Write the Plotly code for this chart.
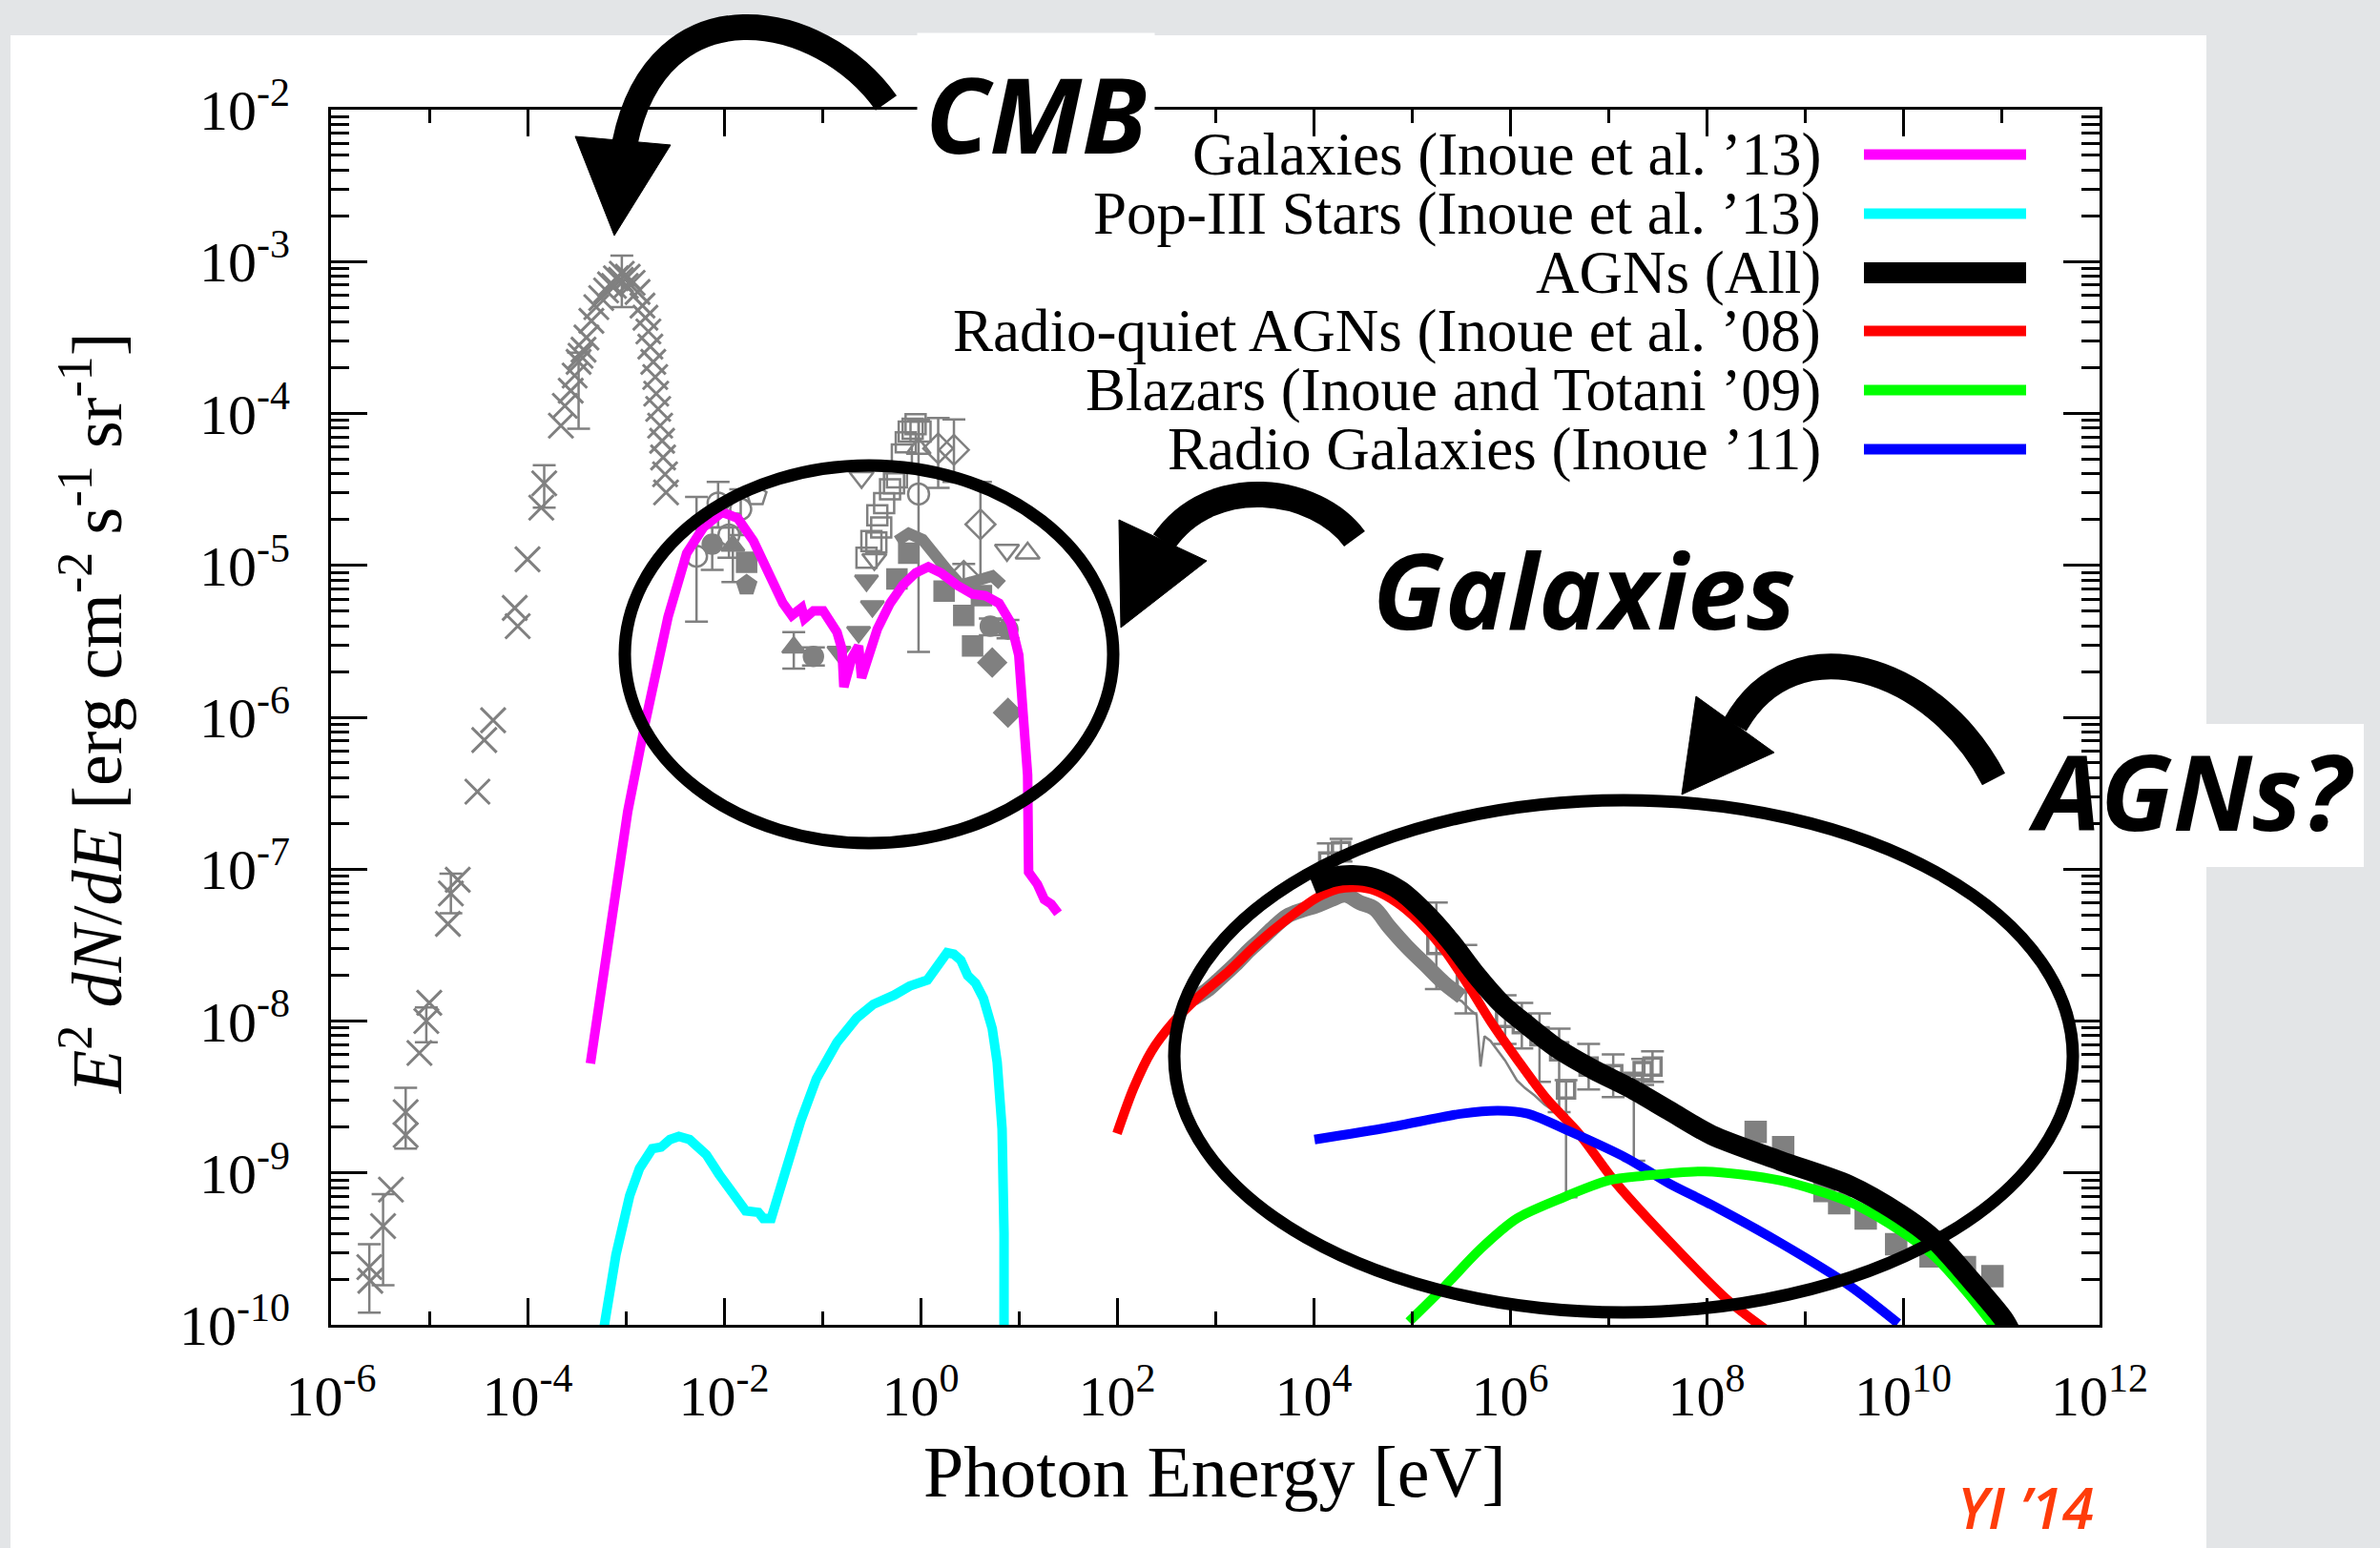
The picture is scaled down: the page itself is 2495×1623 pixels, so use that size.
import numpy as np
import plotly.graph_objects as go

# ---------------- data (log10 values) ----------------
# CMB measurements (x-shaped markers)
cmb_logE = [-5.60, -5.39, -5.24, -5.10, -5.00, -4.81, -4.71, -4.51, -4.44, -4.35, -4.10, -4.13,
            -4.00, -3.86, -3.66, -3.56, -3.43, -3.35, -3.30, -3.25, -3.20, -3.16, -3.10, -2.98,
            -2.93, -2.88, -2.83, -2.80, -2.77, -2.75, -2.72, -2.70, -2.69, -2.67, -2.65, -2.63,
            -2.62, -2.60, -2.59, -3.40, -3.52, -3.05, -3.00, -3.12, -3.46, -3.62]
cmb_logY = [-9.71, -9.11, -8.75, -8.21, -7.88, -7.36, -7.07, -6.49, -6.15, -6.02, -5.40, -5.28,
            -4.96, -4.62, -4.08, -3.85, -3.58, -3.39, -3.30, -3.24, -3.19, -3.15, -3.11, -3.10,
            -3.14, -3.20, -3.29, -3.37, -3.46, -3.56, -3.66, -3.76, -3.87, -3.97, -4.08, -4.18,
            -4.29, -4.40, -4.52, -3.50, -3.75, -3.12, -3.16, -3.16, -3.62, -3.95]
# CMB points with visible error bars: value, lower, upper (log10)
cmbe_logE = [-5.61, -5.47, -5.24, -5.03, -4.78, -3.83, -3.48, -3.04]
cmbe_logY = [-9.62, -9.35, -8.60, -8.00, -7.16, -4.46, -3.66, -3.08]
cmbe_lo = [-9.92, -9.74, -8.84, -8.14, -7.29, -4.62, -4.10, -3.30]
cmbe_hi = [-9.47, -9.14, -8.44, -7.91, -7.03, -4.34, -3.60, -2.96]

# EBL measurements (various symbols)
ebl_ocirc_E = [-2.28, -2.06, -1.83, -1.95, -0.02]
ebl_ocirc_Y = [-4.94, -4.59, -4.63, -4.80, -4.53]
ebl_ocirc_lo = [-5.37, -4.75, -4.80, -4.95, -5.57]
ebl_ocirc_hi = [-4.55, -4.45, -4.50, -4.66, -4.04]
ebl_fcirc_E = [-2.12, -1.09, 0.71, 0.89]
ebl_fcirc_Y = [-4.86, -5.60, -5.40, -5.42]
ebl_fcirc_lo = [-5.03, -5.66, -5.46, -5.48]
ebl_fcirc_hi = [-4.75, -5.54, -5.35, -5.36]
ebl_ftri_E = [-1.91, -1.29]
ebl_ftri_Y = [-4.87, -5.54]
ebl_ftri_lo = [-5.11, -5.68]
ebl_ftri_hi = [-4.75, -5.44]
ebl_fdown_E = [-0.83, -0.63, -0.49, -0.55]
ebl_fdown_Y = [-5.57, -5.44, -5.27, -5.10]
ebl_otri_E = [-0.02, 1.09]
ebl_otri_Y = [-4.23, -4.92]
ebl_odown_E = [-0.60, -0.47, 0.88]
ebl_odown_Y = [-4.42, -4.96, -4.90]
ebl_fsq_E = [-1.77, -0.24, -0.12, 0.24, 0.44, 0.53, 0.62]
ebl_fsq_Y = [-4.98, -5.09, -4.92, -5.17, -5.33, -5.53, -5.20]
ebl_osq_E = [-0.55, -0.50, -0.45, -0.44, -0.40, -0.37, -0.31, -0.27, -0.24, -0.19, -0.15, -0.12,
             -0.08, -0.05, 0.00]
ebl_osq_Y = [-4.95, -4.84, -4.85, -4.67, -4.75, -4.59, -4.50, -4.46, -4.42, -4.27, -4.19, -4.12,
             -4.10, -4.07, -4.12]
ebl_fpent_E = [-1.77]
ebl_fpent_Y = [-5.13]
ebl_opent_E = [-1.67]
ebl_opent_Y = [-4.54]
ebl_odiam_E = [0.18, 0.34, 0.61, 0.44]
ebl_odiam_Y = [-4.23, -4.24, -4.73, -5.07]
ebl_odiam_lo = [-4.49, -4.45, -5.10, -5.15]
ebl_odiam_hi = [-4.03, -4.04, -4.45, -4.99]
ebl_fdiam_E = [0.73, 0.89]
ebl_fdiam_Y = [-5.64, -5.97]
ebl_band_E = [-0.24, -0.12, 0.02, 0.15, 0.27, 0.41, 0.53, 0.73, 0.83]
ebl_band_Y = [-4.84, -4.79, -4.83, -4.92, -5.03, -5.13, -5.11, -5.07, -5.13]

# X-ray / gamma-ray background measurements
cxb_band_E = [2.78, 2.91, 3.05, 3.20, 3.35, 3.47, 3.60, 3.73, 3.88, 4.03, 4.18, 4.32, 4.47,
              4.62, 4.77, 4.95, 5.14, 5.33, 5.51]
cxb_band_Y = [-7.85, -7.80, -7.72, -7.63, -7.53, -7.46, -7.38, -7.31, -7.27, -7.24, -7.20, -7.17,
              -7.22, -7.26, -7.38, -7.51, -7.63, -7.75, -7.84]
cxb_spec_E = [5.45, 5.51, 5.60, 5.66, 5.70, 5.74, 5.80, 5.88, 5.95, 6.07, 6.15, 6.25, 6.35, 6.44, 6.52, 6.59]
cxb_spec_Y = [-7.85, -7.87, -7.93, -7.96, -8.30, -8.10, -8.13, -8.20, -8.26, -8.39, -8.44, -8.49,
              -8.55, -8.59, -8.61, -8.62]
gam_open_E = [4.15, 4.28, 5.25, 5.55, 5.95, 6.12, 6.30, 6.50, 6.57, 6.80, 7.05, 7.26, 7.35, 7.45]
gam_open_Y = [-6.95, -6.88, -7.50, -7.75, -7.98, -8.02, -8.10, -8.20, -8.45, -8.30, -8.35, -8.40, -8.33, -8.30]
gam_open_lo = [-7.02, -6.95, -7.79, -7.95, -8.15, -8.18, -8.40, -8.60, -9.16, -8.45, -8.50, -8.92, -8.42, -8.40]
gam_open_hi = [-6.83, -6.80, -7.22, -7.50, -7.83, -7.88, -7.95, -8.05, -8.39, -8.15, -8.22, -8.36, -8.25, -8.20]
fermi_E = [8.50, 8.78, 9.20, 9.35, 9.62, 9.93, 10.28, 10.63, 10.91]
fermi_Y = [-8.73, -8.83, -9.12, -9.20, -9.30, -9.47, -9.55, -9.62, -9.68]

# Model curves
gal_E = [-3.36, -3.14, -2.98, -2.80, -2.57, -2.38, -2.21, -2.02, -1.86, -1.70, -1.53, -1.40, -1.31,
         -1.21, -1.18, -1.09, -0.99, -0.85, -0.80, -0.78, -0.70, -0.63, -0.60, -0.53, -0.44, -0.31,
         -0.18, -0.05, 0.08, 0.21, 0.37, 0.53, 0.66, 0.80, 0.92, 1.00, 1.05, 1.09, 1.10, 1.19, 1.26,
         1.33, 1.40]
gal_Y = [-8.28, -7.27, -6.62, -6.03, -5.34, -4.92, -4.75, -4.65, -4.69, -4.84, -5.09, -5.25, -5.33,
         -5.28, -5.35, -5.30, -5.30, -5.44, -5.55, -5.80, -5.61, -5.53, -5.74, -5.61, -5.42, -5.25,
         -5.13, -5.05, -5.01, -5.05, -5.13, -5.19, -5.20, -5.25, -5.38, -5.59, -5.97, -6.38, -7.02,
         -7.10, -7.20, -7.23, -7.29]
pop3_E = [-3.23, -3.10, -2.96, -2.86, -2.73, -2.64, -2.55, -2.46, -2.35, -2.18, -2.05, -1.91, -1.78,
          -1.65, -1.60, -1.52, -1.40, -1.22, -1.06, -0.85, -0.65, -0.48, -0.27, -0.11, 0.07, 0.17,
          0.27, 0.34, 0.41, 0.48, 0.56, 0.64, 0.73, 0.78, 0.83, 0.85, 0.85]
pop3_Y = [-10.05, -9.54, -9.15, -8.97, -8.84, -8.83, -8.78, -8.76, -8.78, -8.88, -9.01, -9.13, -9.25,
          -9.26, -9.30, -9.30, -9.04, -8.66, -8.38, -8.14, -7.98, -7.89, -7.83, -7.77, -7.73, -7.65,
          -7.55, -7.56, -7.60, -7.70, -7.75, -7.85, -8.05, -8.27, -8.71, -9.40, -10.3]
agn_E = [3.99, 4.21, 4.40, 4.62, 4.88, 5.14, 5.40, 5.66, 5.92, 6.18, 6.48, 6.85, 7.22, 7.62, 8.05,
         8.75, 9.45, 9.97, 10.32, 10.67, 11.02, 11.10]
agn_Y = [-7.10, -7.05, -7.04, -7.06, -7.14, -7.29, -7.48, -7.70, -7.89, -8.03, -8.18, -8.32, -8.44,
         -8.59, -8.75, -8.92, -9.08, -9.27, -9.44, -9.69, -9.96, -10.05]
rq_E = [2.00, 2.17, 2.35, 2.57, 2.83, 3.14, 3.43, 3.73, 4.03, 4.25, 4.44, 4.62, 4.85, 5.07, 5.33,
        5.58, 5.81, 6.07, 6.37, 6.70, 7.07, 7.62, 8.22, 8.60]
rq_Y = [-8.74, -8.44, -8.20, -8.01, -7.84, -7.67, -7.49, -7.33, -7.19, -7.13, -7.12, -7.14, -7.22,
        -7.34, -7.53, -7.77, -8.01, -8.25, -8.51, -8.74, -9.06, -9.45, -9.84, -10.03]
blz_E = [4.97, 5.33, 5.70, 6.07, 6.51, 7.00, 7.35, 7.98, 8.75, 9.45, 9.97, 10.32, 10.67, 10.95]
blz_Y = [-9.98, -9.75, -9.50, -9.30, -9.17, -9.05, -9.02, -8.99, -9.05, -9.19, -9.38, -9.55, -9.80, -10.03]
rg_E = [4.01, 4.77, 5.51, 5.88, 6.18, 6.62, 7.18, 7.62, 8.05, 8.75, 9.45, 9.95]
rg_Y = [-8.78, -8.70, -8.61, -8.59, -8.61, -8.73, -8.90, -9.07, -9.21, -9.46, -9.74, -9.99]

# Legend
legend_names = ["Galaxies (Inoue et al. ’13)", "Pop-III Stars (Inoue et al. ’13)", "AGNs (All)",
                "Radio-quiet AGNs (Inoue et al. ’08)", "Blazars (Inoue and Totani ’09)",
                "Radio Galaxies (Inoue ’11)"]
legend_colors = ["#ff00ff", "#00ffff", "#000000", "#ff0000", "#00ff00", "#0000ff"]
legend_widths = [11, 11, 22, 11, 11, 11]

x_tick_exp = [-6, -4, -2, 0, 2, 4, 6, 8, 10, 12]
y_tick_exp = [-10, -9, -8, -7, -6, -5, -4, -3, -2]

# ---------------- layout geometry ----------------
W, H = 2495, 1623
L, R, T, B = 347, 2201, 115, 1389
GRAY = "#808080"
SERIF = "Liberation Serif"


def P(px, py):
    return (px - L) / (R - L), (B - py) / (B - T)


def lin(v):
    return 10 ** np.array(v, dtype=float)


def errs(y, lo, hi):
    y = np.array(y, float)
    return dict(type="data", symmetric=False, array=10 ** np.array(hi) - 10 ** y,
                arrayminus=10 ** y - 10 ** np.array(lo), color=GRAY, thickness=2.5, width=12)


fig = go.Figure()


def pts(E, Y, symbol, size=22, err=None, lw=2.5):
    tr = go.Scatter(x=lin(E), y=lin(Y), mode="markers", showlegend=False,
                    marker=dict(symbol=symbol, size=size, color=GRAY,
                                line=dict(color=GRAY, width=lw)))
    if err is not None:
        tr.error_y = err
    fig.add_trace(tr)


# gray data
pts(cmb_logE, cmb_logY, "x-thin-open", 26, lw=3)
pts(cmbe_logE, cmbe_logY, "x-thin-open", 26, errs(cmbe_logY, cmbe_lo, cmbe_hi), lw=3)
fig.add_trace(go.Scatter(x=lin(ebl_band_E), y=lin(ebl_band_Y), mode="lines", showlegend=False,
                         line=dict(color=GRAY, width=12)))
pts(ebl_ocirc_E, ebl_ocirc_Y, "circle-open", 22, errs(ebl_ocirc_Y, ebl_ocirc_lo, ebl_ocirc_hi))
pts(ebl_fcirc_E, ebl_fcirc_Y, "circle", 20, errs(ebl_fcirc_Y, ebl_fcirc_lo, ebl_fcirc_hi))
pts(ebl_ftri_E, ebl_ftri_Y, "triangle-up", 21, errs(ebl_ftri_Y, ebl_ftri_lo, ebl_ftri_hi))
pts(ebl_fdown_E, ebl_fdown_Y, "triangle-down", 21)
pts(ebl_otri_E, ebl_otri_Y, "triangle-up-open", 22)
pts(ebl_odown_E, ebl_odown_Y, "triangle-down-open", 22)
pts(ebl_fsq_E, ebl_fsq_Y, "square", 20)
pts(ebl_osq_E, ebl_osq_Y, "square-open", 21)
pts(ebl_fpent_E, ebl_fpent_Y, "pentagon", 21)
pts(ebl_opent_E, ebl_opent_Y, "pentagon-open", 22)
pts(ebl_odiam_E, ebl_odiam_Y, "diamond-open", 24, errs(ebl_odiam_Y, ebl_odiam_lo, ebl_odiam_hi))
pts(ebl_fdiam_E, ebl_fdiam_Y, "diamond", 22)
fig.add_trace(go.Scatter(x=lin(cxb_band_E), y=lin(cxb_band_Y), mode="lines", showlegend=False,
                         line=dict(color=GRAY, width=16, shape="spline")))
fig.add_trace(go.Scatter(x=lin(cxb_spec_E), y=lin(cxb_spec_Y), mode="lines", showlegend=False,
                         line=dict(color=GRAY, width=2.5)))
pts(gam_open_E, gam_open_Y, "square-open", 18, errs(gam_open_Y, gam_open_lo, gam_open_hi), lw=3.5)
pts(fermi_E, fermi_Y, "square", 21)

# model curves
curves = [(gal_E, gal_Y, 0, "linear"), (pop3_E, pop3_Y, 1, "linear"), (rq_E, rq_Y, 3, "spline"),
          (rg_E, rg_Y, 5, "spline"), (blz_E, blz_Y, 4, "spline"), (agn_E, agn_Y, 2, "spline")]
for E, Y, i, shp in curves:
    fig.add_trace(go.Scatter(x=lin(E), y=lin(Y), mode="lines", name=legend_names[i],
                             showlegend=False,
                             line=dict(color=legend_colors[i], width=legend_widths[i] - 1,
                                       shape=shp, smoothing=0.8 if shp == "spline" else None)))

shapes = []
annotations = []

# background panels
x0, y0 = P(11, 37)
x1, y1 = P(2313, 1640)
shapes.append(dict(type="rect", xref="paper", yref="paper", x0=x0, y0=y1, x1=x1, y1=y0,
                   fillcolor="white", line=dict(width=0), layer="below"))
x0, y0 = P(2100, 759)
x1, y1 = P(2478, 909)
shapes.append(dict(type="rect", xref="paper", yref="paper", x0=x0, y0=y1, x1=x1, y1=y0,
                   fillcolor="white", line=dict(width=0), layer="below"))

# ellipses
for (a, b, c, d) in [(655, 488, 1167, 884), (1231, 839, 2173, 1376)]:
    ex0, ey0 = P(a, d)
    ex1, ey1 = P(c, b)
    shapes.append(dict(type="circle", xref="paper", yref="paper", x0=ex0, y0=ey0, x1=ex1, y1=ey1,
                       line=dict(color="black", width=13), layer="above"))


def path_str(cmds):
    out = []
    for c in cmds:
        if isinstance(c, str):
            out.append(c)
        else:
            px, py = P(*c)
            out.append(f"{px:.5f},{py:.5f}")
    return " ".join(out)


arrows = [
    # arc: start, c1, c2, end ; head triangle
    ((929, 108), (860, 10), (690, -20), (655, 150), [(603, 143), (703, 152), (644, 247)]),
    ((1420, 565), (1380, 510), (1270, 495), (1220, 568), [(1173, 545), (1265, 588), (1175, 658)]),
    ((2090, 817), (2030, 700), (1880, 650), (1819, 760), [(1778, 730), (1860, 789), (1763, 833)]),
]
for s, c1, c2, e, tri in arrows:
    shapes.append(dict(type="path", xref="paper", yref="paper",
                       path=path_str(["M", s, "C", c1, c2, e]),
                       line=dict(color="black", width=27), fillcolor="rgba(0,0,0,0)",
                       layer="above"))
    shapes.append(dict(type="path", xref="paper", yref="paper",
                       path=path_str(["M", tri[0], "L", tri[1], "L", tri[2], "Z"]),
                       line=dict(color="black", width=1), fillcolor="black", layer="above"))

# big labels
for txt, cx, cy, bg in [("CMB", 1086, 118, "white"), ("Galaxies", 1661, 617, "rgba(0,0,0,0)"),
                        ("AGNs?", 2297, 828, "rgba(0,0,0,0)")]:
    ax, ay = P(cx, cy)
    annotations.append(dict(xref="paper", yref="paper", x=ax, y=ay, text=txt, showarrow=False,
                            xanchor="center", yanchor="middle", bgcolor=bg, borderpad=8,
                            font=dict(family="Open Sans", size=110, color="black",
                                      weight="bold", style="italic")))

# legend (text right-aligned, line sample to the right)
row_y = [162, 224, 286, 347, 409, 471]
for name, col, wdt, ry in zip(legend_names, legend_colors, legend_widths, row_y):
    tx, ty = P(1911, ry)
    annotations.append(dict(xref="paper", yref="paper", x=tx, y=ty, text=name, showarrow=False,
                            xanchor="right", yanchor="middle",
                            font=dict(family=SERIF, size=63, color="black")))
    lx0, ly = P(1954, ry)
    lx1, _ = P(2124, ry)
    shapes.append(dict(type="line", xref="paper", yref="paper", x0=lx0, x1=lx1, y0=ly, y1=ly,
                       line=dict(color=col, width=wdt), layer="above"))

# axis titles
ax, ay = P(1273, 1543)
annotations.append(dict(xref="paper", yref="paper", x=ax, y=ay, text="Photon Energy [eV]",
                        showarrow=False, xanchor="center", yanchor="middle",
                        font=dict(family=SERIF, size=76, color="black")))
ax, ay = P(96, 748)
annotations.append(dict(xref="paper", yref="paper", x=ax, y=ay,
                        text="<i>E</i><sup>2</sup> <i>dN</i>/<i>dE</i> [erg cm<sup>-2</sup> s<sup>-1</sup> sr<sup>-1</sup>]",
                        showarrow=False, textangle=-90, xanchor="center", yanchor="middle",
                        font=dict(family=SERIF, size=74, color="black")))
ax, ay = P(2123, 1622)
annotations.append(dict(xref="paper", yref="paper", x=ax, y=ay, text="YI ’14", showarrow=False,
                        xanchor="center", yanchor="bottom", borderpad=0,
                        font=dict(family="Open Sans", size=60, color="#ff3c0a",
                                  weight=600, style="italic")))

fig.update_layout(
    width=W, height=H,
    margin=dict(l=L, r=W - R, t=T, b=H - B, pad=0),
    paper_bgcolor="#e3e5e7", plot_bgcolor="white",
    showlegend=False,
    shapes=shapes, annotations=annotations,
)
fig.update_xaxes(type="log", range=[-6, 12], showgrid=False, zeroline=False,
                 showline=True, linecolor="black", linewidth=3, mirror="allticks",
                 ticks="inside", ticklen=28, tickwidth=3, tickcolor="black",
                 tickvals=[10.0 ** e for e in x_tick_exp],
                 ticktext=[f"10<sup>{e}</sup>" for e in x_tick_exp],
                 tickfont=dict(family=SERIF, size=60, color="black"), ticklabelstandoff=20,
                 minor=dict(ticks="inside", ticklen=14, tickwidth=3, tickcolor="black",
                            dtick=1, showgrid=False))
fig.update_yaxes(type="log", range=[-10, -2], showgrid=False, zeroline=False,
                 showline=True, linecolor="black", linewidth=3, mirror="allticks",
                 ticks="inside", ticklen=38, tickwidth=3, tickcolor="black",
                 tickvals=[10.0 ** e for e in y_tick_exp],
                 ticktext=[f"10<sup>{e}</sup>" for e in y_tick_exp],
                 tickfont=dict(family=SERIF, size=60, color="black"), ticklabelstandoff=28,
                 minor=dict(ticks="inside", ticklen=19, tickwidth=3, tickcolor="black",
                            dtick="D1", showgrid=False))

fig.write_html("out.html")
